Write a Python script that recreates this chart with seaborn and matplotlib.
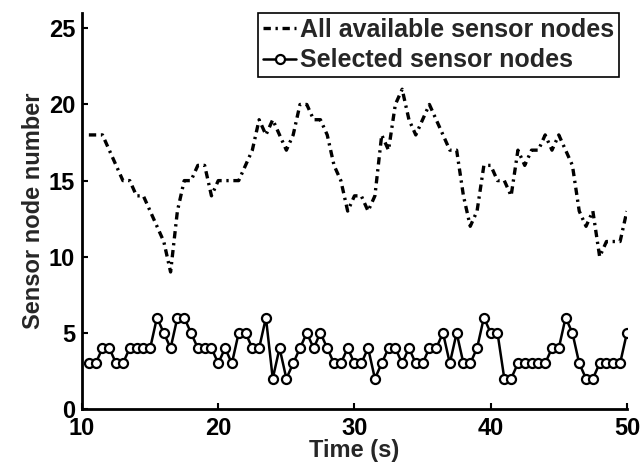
import numpy as np
import matplotlib
matplotlib.use("Agg")
import matplotlib.pyplot as plt
import seaborn as sns

# time axis (s), sampled every 0.5 s
time_s = np.arange(10.5, 50.01, 0.5)

# all available sensor nodes (dash-dot line)
all_nodes = [18, 18, 18, 17, 16, 15, 15, 14, 14, 13,
             12, 11, 9, 13, 15, 15, 16, 16, 14, 15,
             15, 15, 15, 16, 17, 19, 18, 19, 18, 17,
             18, 20, 20, 19, 19, 18, 16, 15, 13, 14,
             14, 13, 14, 18, 17, 20, 21, 19, 18, 19,
             20, 19, 18, 17, 17, 14, 12, 13, 16, 16,
             15, 15, 14, 17, 16, 17, 17, 18, 17, 18,
             17, 16, 13, 12, 13, 10, 11, 11, 11, 13]

# selected sensor nodes (solid line with circles)
selected_nodes = [3, 3, 4, 4, 3, 3, 4, 4, 4, 4,
                  6, 5, 4, 6, 6, 5, 4, 4, 4, 3,
                  4, 3, 5, 5, 4, 4, 6, 2, 4, 2,
                  3, 4, 5, 4, 5, 4, 3, 3, 4, 3,
                  3, 4, 2, 3, 4, 4, 3, 4, 3, 3,
                  4, 4, 5, 3, 5, 3, 3, 4, 6, 5,
                  5, 2, 2, 3, 3, 3, 3, 3, 4, 4,
                  6, 5, 3, 2, 2, 3, 3, 3, 3, 5]

labels = ["All available sensor nodes", "Selected sensor nodes"]

sns.set_style("white")
plt.rcParams['font.family'] = ['Liberation Sans', 'DejaVu Sans']
plt.rcParams['font.weight'] = 'bold'

fig = plt.figure(figsize=(6.41, 4.68), dpi=100)
ax = fig.add_axes([0.128, 0.126, 0.85, 0.846])

sns.lineplot(x=time_s, y=all_nodes, ax=ax, color='black', lw=2.4,
             linestyle=(0, (2.2, 1.4, 0.7, 1.4)), label=labels[0])
sns.lineplot(x=time_s, y=selected_nodes, ax=ax, color='black', lw=1.8,
             marker='o', markersize=6.5, markerfacecolor='white',
             markeredgecolor='black', markeredgewidth=1.6, label=labels[1])

ax.set_xlim(10, 50)
ax.set_ylim(0, 26)
ax.set_xticks([10, 20, 30, 40, 50])
ax.set_yticks([0, 5, 10, 15, 20, 25])

for side in ['top', 'right']:
    ax.spines[side].set_visible(False)
for side in ['left', 'bottom']:
    ax.spines[side].set_linewidth(2)
    ax.spines[side].set_color('black')

ax.tick_params(direction='in', length=4, width=1.5, colors='black',
               labelsize=17, left=True, bottom=True)
ax.tick_params(axis='x', pad=6)
ax.tick_params(axis='y', pad=5)
for lab in ax.get_xticklabels() + ax.get_yticklabels():
    lab.set_fontweight('bold')

ax.set_xlabel('Time (s)', fontsize=17, fontweight='bold', labelpad=-1)
ax.set_ylabel('Sensor node number', fontsize=17, fontweight='bold', labelpad=3)

leg = ax.legend(loc='upper right', bbox_to_anchor=(0.985, 1.0), borderaxespad=0,
                fancybox=False, framealpha=1, edgecolor='black',
                prop={'size': 18, 'weight': 'bold'}, handlelength=1.3,
                handletextpad=0.15, labelspacing=0.25, borderpad=0.2)
leg.get_frame().set_linewidth(1.2)

fig.savefig('out.png', dpi=100, facecolor='white')
